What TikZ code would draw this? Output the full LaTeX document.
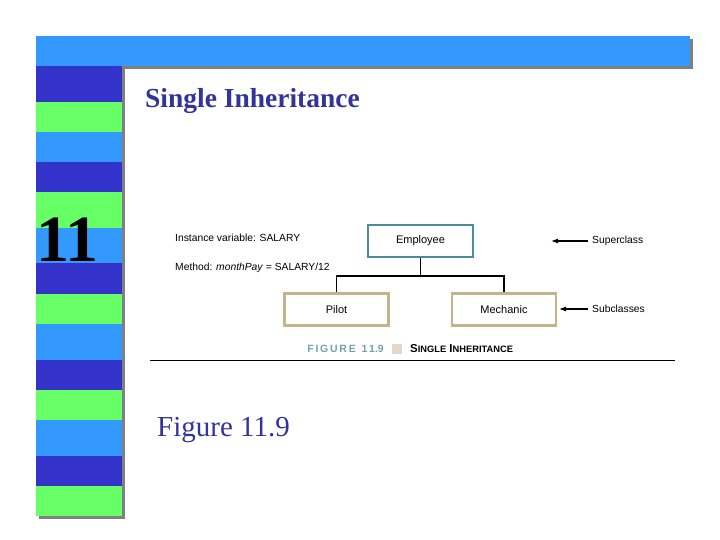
\documentclass[tikz,border=0pt]{standalone}
\usepackage{fontspec}
\setmainfont{Liberation Serif}
\newfontfamily\arial{Liberation Sans}
\definecolor{lb}{HTML}{3399FF}
\definecolor{db}{HTML}{3333CC}
\definecolor{gr}{HTML}{66FF66}
\definecolor{ttl}{HTML}{333399}
\definecolor{teal}{HTML}{4A8C9A}
\definecolor{tan}{HTML}{C4B48C}
\definecolor{cap}{HTML}{6FA2AA}
\begin{document}
\begin{tikzpicture}[x=1pt,y=-1pt,
 cls/.style={draw,line width=2.8pt,minimum width=104pt,minimum height=32pt,font=\arial\fontsize{11}{13}\selectfont},
 lbl/.style={font=\arial\fontsize{10.3}{12}\selectfont,anchor=west,inner sep=0pt},
 arr/.style={-{Latex[length=7pt,width=5pt]},line width=1.2pt}]
\usetikzlibrary{arrows.meta}
\useasboundingbox (0,0) rectangle (720,540);
\fill[gray] (39,39) rectangle (693,69);
\fill[gray] (39,69) rectangle (125,519);
\fill[lb] (36,36) rectangle (690,66);
\foreach \a/\b/\c in {66/102/db,102/132/gr,132/162/lb,162/192/db,192/228/gr,228/263/lb,263/294/db,294/324/gr,324/360/lb,360/390/db,390/420/gr,420/456/lb,456/486/db,486/516/gr}
 \fill[\c] (36,\a) rectangle (122,\b);
\node[anchor=west,text=ttl,font=\bfseries\fontsize{27.5}{32}\selectfont,inner sep=0pt] (title) at (145,101) {Single Inheritance};
\node[anchor=west,font=\bfseries\fontsize{66}{70}\selectfont,inner sep=0pt] (num) at (36,240) {11};
\node[anchor=west,text=ttl,font=\fontsize{29}{33}\selectfont,inner sep=0pt] (fig) at (157,430) {Figure 11.9};
\node[cls,draw=teal,minimum width=105pt] (emp) at (420.5,241) {Employee};
\node[cls,draw=tan] (pil) at (336.5,309.5) {Pilot};
\node[cls,draw=tan] (mec) at (504,309.5) {Mechanic};
\draw[line width=1.3pt] (emp.south) -- (420.5,276) coordinate (j);
\draw[line width=1.3pt] (pil.north) |- (j) -| (mec.north);
\node[lbl] (iv) at (175,238) {Instance variable: SALARY};
\node[lbl] (me) at (175,268) {Method: \textit{monthPay} = SALARY/12};
\node[lbl] (sup) at (592,241) {Superclass};
\node[lbl] (sub) at (592,309) {Subclasses};
\coordinate (a1) at (588,241); \coordinate (a1e) at (551,241);
\coordinate (a2) at (588,309); \coordinate (a2e) at (559,309);
\draw[arr] (a1) -- (a1e);
\draw[arr] (a2) -- (a2e);
\node[anchor=east,text=cap,font=\arial\bfseries\fontsize{10.5}{12}\selectfont,inner sep=0pt] (fc) at (384,349) {F\,I\,G\,U\,R\,E\ \ 1\,1.9};
\fill[tan!50] (392,344) rectangle (402,354);
\node[anchor=west,font=\arial\bfseries\fontsize{11.5}{13}\selectfont,inner sep=0pt] (si) at (410,349) {S{\fontsize{9.3}{11}\selectfont INGLE} I{\fontsize{9.3}{11}\selectfont NHERITANCE}};
\draw[line width=1pt] (150,360) -- (675,360);
\end{tikzpicture}
\end{document}
